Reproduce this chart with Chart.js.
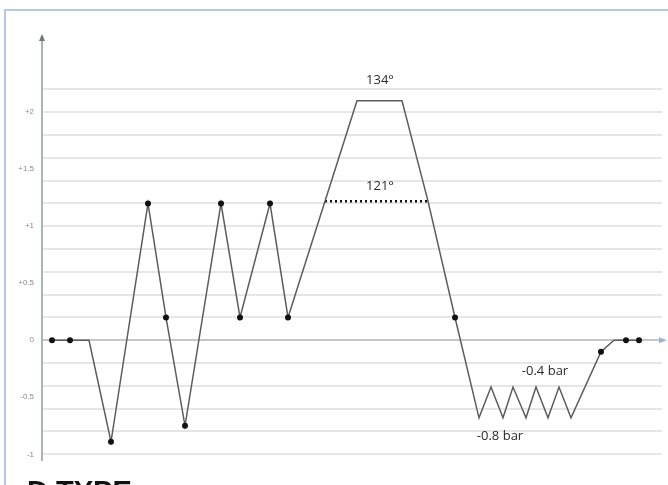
<!DOCTYPE html>
<html lang="en">
<head>
<meta charset="UTF-8">
<title>Pressure profile</title>
<script src="https://cdn.jsdelivr.net/npm/chart.js"></script>
<style>
  html, body { margin: 0; padding: 0; background: #fff; overflow: hidden; }
  #wrap { position: relative; width: 668px; height: 485px; }
  #frame { position: absolute; left: 4px; top: 9px; width: 700px; height: 500px;
           border-top: 2px solid #b4c8e1; border-left: 2px solid #b4c8e1; }
  canvas { position: absolute; left: 0; top: 0; }
</style>
</head>
<body>
<div id="wrap">
  <div id="frame"></div>
  <canvas id="profileChart" width="668" height="485"></canvas>
</div>
<script>
// time (arbitrary units) and level
const times  = [1.0, 2.8, 4.7, 6.9, 10.6, 12.4, 14.3, 17.9, 19.8, 22.8, 24.6, 28.3, 31.5, 36.0, 38.6,
                41.3, 43.7, 44.9, 46.1, 47.1, 48.4, 49.4, 50.6, 51.7, 52.9, 55.9, 57.2, 58.4, 59.7];
const values = [0, 0, 0, -0.89, 1.2, 0.2, -0.75, 1.2, 0.2, 1.2, 0.2, 1.22, 2.1, 2.1, 1.22,
                0.2, -0.68, -0.41, -0.68, -0.41, -0.68, -0.41, -0.68, -0.41, -0.68, -0.1, 0, 0, 0];
// which points are measured (drawn with a dot)
const marked = [1, 1, 0, 1, 1, 1, 1, 1, 1, 1, 1, 0, 0, 0, 0,
                1, 0, 0, 0, 0, 0, 0, 0, 0, 0, 1, 0, 1, 1];

const holdLine = { from: 28.3, to: 38.6, level: 1.22 };

const tickValues = [-1, -0.5, 0, 0.5, 1, 1.5, 2];
const tickLabels = ['-1', '-0.5', '0', '+0.5', '+1', '+1.5', '+2'];

const notes = [
  { text: '134°',     x: 33.8, y: 2.28 },
  { text: '121°',     x: 33.8, y: 1.35 },
  { text: '-0.4 bar', x: 50.3, y: -0.27 },
  { text: '-0.8 bar', x: 45.8, y: -0.84 }
];

const near = (a, b) => Math.abs(a - b) < 1e-6;

const decor = {
  id: 'decor',
  afterDraw(chart) {
    const { ctx, chartArea, scales } = chart;
    const xs = scales.x, ys = scales.y;
    ctx.save();

    // arrow on top of the y axis
    ctx.fillStyle = '#6f767d';
    ctx.beginPath();
    ctx.moveTo(chartArea.left, chartArea.top - 3);
    ctx.lineTo(chartArea.left - 3, chartArea.top + 4);
    ctx.lineTo(chartArea.left + 3, chartArea.top + 4);
    ctx.closePath();
    ctx.fill();

    // arrow at the end of the zero line
    const y0 = ys.getPixelForValue(0);
    ctx.fillStyle = '#9fb2c8';
    ctx.beginPath();
    ctx.moveTo(chartArea.right + 5, y0);
    ctx.lineTo(chartArea.right - 3, y0 - 3);
    ctx.lineTo(chartArea.right - 3, y0 + 3);
    ctx.closePath();
    ctx.fill();

    // annotations
    ctx.fillStyle = '#2b2b2b';
    ctx.font = '13px "Open Sans", sans-serif';
    ctx.textAlign = 'center';
    ctx.textBaseline = 'middle';
    notes.forEach(n => {
      ctx.fillText(n.text, xs.getPixelForValue(n.x), ys.getPixelForValue(n.y));
    });

    // title cut by the bottom edge
    ctx.fillStyle = '#111';
    ctx.font = 'bold 29px "Liberation Sans", Arial, sans-serif';
    ctx.textAlign = 'left';
    ctx.textBaseline = 'alphabetic';
    ctx.fillText('D TYPE', 27, 501);
    ctx.restore();
  }
};

const ctx = document.getElementById('profileChart').getContext('2d');
const profileChart = new Chart(ctx, {
  type: 'line',
  data: {
    datasets: [
      {
        data: times.map((t, i) => ({ x: t, y: values[i] })),
        borderColor: '#5c5c5c',
        borderWidth: 1.5,
        pointRadius: c => marked[c.dataIndex] ? 3 : 0,
        pointBackgroundColor: '#111',
        pointBorderWidth: 0,
        tension: 0
      },
      {
        data: [{ x: holdLine.from, y: holdLine.level }, { x: holdLine.to, y: holdLine.level }],
        borderColor: '#111',
        borderWidth: 2.5,
        borderDash: [2, 3],
        pointRadius: 0
      }
    ]
  },
  options: {
    responsive: false,
    animation: false,
    layout: { padding: { left: 0, right: 6, top: 37, bottom: 25 } },
    plugins: { legend: { display: false }, tooltip: { enabled: false } },
    scales: {
      x: { type: 'linear', display: false, min: 0, max: 62 },
      y: {
        min: -1.05,
        max: 2.66,
        afterFit: s => { s.width = 42; },
        afterBuildTicks: s => {
          const t = [];
          for (let k = -10; k <= 22; k++) t.push({ value: k / 10 });
          s.ticks = t;
        },
        border: { color: '#aab2bb', width: 2 },
        grid: {
          drawTicks: false,
          lineWidth: 2,
          color: c => {
            const k = Math.round(c.tick.value * 10);
            if (k === 0) return '#c6c6c6';
            return k % 2 === 0 ? '#e6e6e6' : 'rgba(0,0,0,0)';
          }
        },
        ticks: {
          autoSkip: false,
          padding: 8,
          color: '#8a8a8a',
          font: { size: 8 },
          callback: v => {
            const i = tickValues.findIndex(tv => near(tv, v));
            return i >= 0 ? tickLabels[i] : '';
          }
        }
      }
    }
  },
  plugins: [decor]
});
</script>
</body>
</html>
